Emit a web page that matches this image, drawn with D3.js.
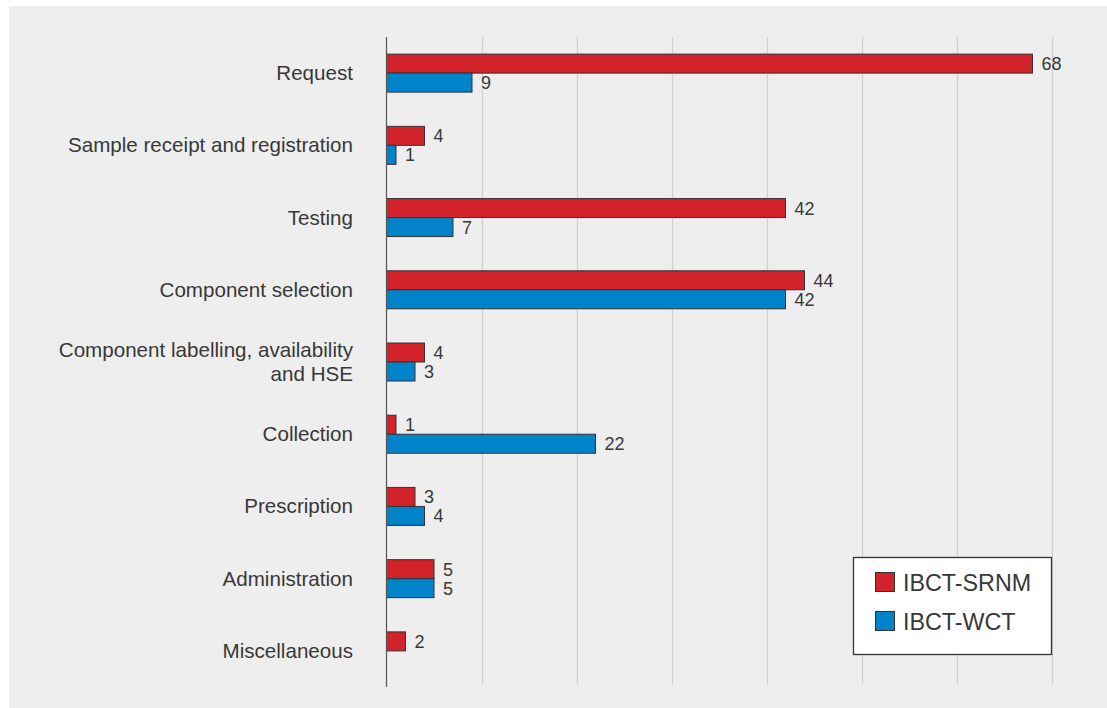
<!DOCTYPE html>
<html>
<head>
<meta charset="utf-8">
<script src="https://cdn.jsdelivr.net/npm/d3@7"></script>
<style>
  html, body { margin: 0; padding: 0; background: #ffffff; }
  svg { display: block; }
  text { font-family: "Liberation Sans", Arial, Helvetica, sans-serif; fill: #383838; }
</style>
</head>
<body>
<svg id="chart" width="1107" height="708"></svg>
<script>
const categories = [
  ["Request"],
  ["Sample receipt and registration"],
  ["Testing"],
  ["Component selection"],
  ["Component labelling, availability", "and HSE"],
  ["Collection"],
  ["Prescription"],
  ["Administration"],
  ["Miscellaneous"]
];
const seriesNames = ["IBCT-SRNM", "IBCT-WCT"];
const srnmValues = [68, 4, 42, 44, 4, 1, 3, 5, 2];
const wctValues = [9, 1, 7, 42, 3, 22, 4, 5, null];
const gridTicks = [10, 20, 30, 40, 50, 60, 70];
const colors = ["#d2232a", "#0083c8"];

(function () {
const svg = d3.select("#chart");
const W = 1107, H = 708;

svg.append("rect").attr("x", 9).attr("y", 6).attr("width", W - 9).attr("height", H - 6).attr("fill", "#eeeeee");

const x0 = 386.5, yTop = 37, yBottom = 687;
const x = d3.scaleLinear().domain([0, 70]).range([x0, x0 + 665]);
const keys = categories.map((d, i) => i);
const y = d3.scaleBand().domain(keys).range([yTop, yBottom]).paddingInner(0).paddingOuter(0);
const ySub = d3.scaleBand().domain([0, 1]).range([0, 38]);

// gridlines
svg.append("g").selectAll("line").data(gridTicks).join("line")
  .attr("x1", d => Math.round(x(d)) + 0.5).attr("x2", d => Math.round(x(d)) + 0.5)
  .attr("y1", yTop).attr("y2", yBottom - 3)
  .attr("stroke", "#cfcfcf").attr("stroke-width", 1.2);

// bars
const data = [];
keys.forEach(i => {
  [srnmValues[i], wctValues[i]].forEach((v, s) => {
    if (v !== null && v !== undefined) data.push({ i, s, v });
  });
});

const barG = svg.append("g");
barG.selectAll("rect").data(data).join("rect")
  .attr("x", x(0))
  .attr("y", d => y(d.i) + y.bandwidth() / 2 - 19 + ySub(d.s))
  .attr("width", d => x(d.v) - x(0))
  .attr("height", ySub.bandwidth())
  .attr("fill", d => colors[d.s])
  .attr("stroke", "#333333")
  .attr("stroke-width", 1);

barG.selectAll("text").data(data).join("text")
  .attr("x", d => x(d.v) + 9)
  .attr("y", d => y(d.i) + y.bandwidth() / 2 - 19 + ySub(d.s) + ySub.bandwidth() / 2 + 6.5)
  .attr("font-size", 18)
  .text(d => d.v);

// axis line
svg.append("line").attr("x1", x0).attr("x2", x0).attr("y1", yTop).attr("y2", yBottom)
  .attr("stroke", "#555555").attr("stroke-width", 1.2);

// category labels
const labG = svg.append("g");
categories.forEach((lines, i) => {
  const cy = y(i) + y.bandwidth() / 2;
  const lh = 24;
  const start = cy - (lines.length - 1) * lh / 2;
  const t = labG.append("text").attr("text-anchor", "end").attr("font-size", 20.6);
  lines.forEach((ln, k) => {
    t.append("tspan").attr("x", 353).attr("y", start + k * lh + 7).text(ln);
  });
});

// legend
const lg = svg.append("g");
lg.append("rect").attr("x", 853.5).attr("y", 557.5).attr("width", 198).attr("height", 97)
  .attr("fill", "#ffffff").attr("stroke", "#333333").attr("stroke-width", 1.3);
seriesNames.forEach((n, k) => {
  const yy = 572.5 + k * 39;
  lg.append("rect").attr("x", 875.5).attr("y", yy).attr("width", 19).attr("height", 19)
    .attr("fill", colors[k]).attr("stroke", "#333333").attr("stroke-width", 1);
  lg.append("text").attr("x", 903).attr("y", yy + 18).attr("font-size", 23.3).text(n);
});
})();
</script>
</body>
</html>
